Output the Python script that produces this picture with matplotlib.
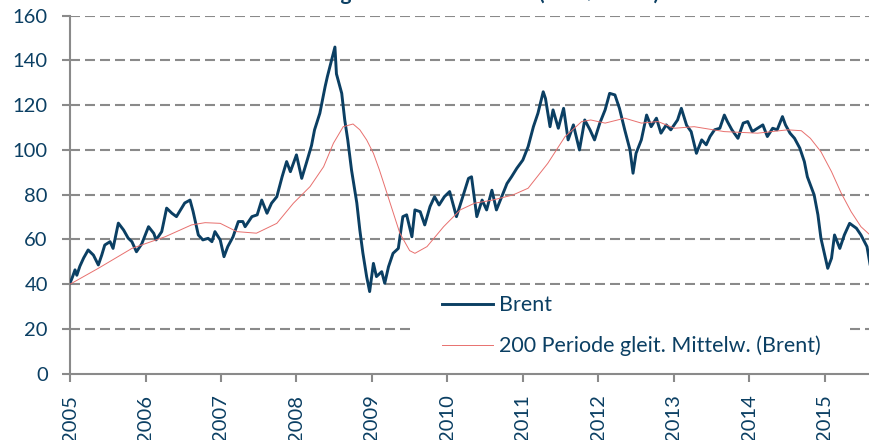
import numpy as np
import matplotlib
matplotlib.use('Agg')
import matplotlib.pyplot as plt
from matplotlib.patches import Rectangle

# Brent (USD/Barrel); Zeit als Dezimaljahr
brent_t = [2005.00, 2005.03, 2005.066, 2005.09, 2005.13, 2005.18, 2005.24, 2005.31, 2005.375, 2005.42,
           2005.46, 2005.53, 2005.57, 2005.64, 2005.71, 2005.77, 2005.82, 2005.88, 2005.95, 2006.04,
           2006.11, 2006.14, 2006.215, 2006.28, 2006.35, 2006.41, 2006.52, 2006.59, 2006.63, 2006.70,
           2006.76, 2006.83, 2006.88, 2006.92, 2006.99, 2007.04, 2007.09, 2007.16, 2007.23, 2007.29,
           2007.32, 2007.41, 2007.48, 2007.54, 2007.61, 2007.67, 2007.74, 2007.81, 2007.87, 2007.92,
           2008.00, 2008.07, 2008.13, 2008.20, 2008.24, 2008.31, 2008.38, 2008.41, 2008.46, 2008.51,
           2008.53, 2008.60, 2008.64, 2008.68, 2008.73, 2008.80, 2008.84, 2008.88, 2008.93, 2008.97,
           2009.02, 2009.06, 2009.13, 2009.17, 2009.22, 2009.28, 2009.35, 2009.41, 2009.46, 2009.53,
           2009.57, 2009.64, 2009.70, 2009.77, 2009.83, 2009.89, 2009.96, 2010.03, 2010.12, 2010.19,
           2010.28, 2010.32, 2010.39, 2010.46, 2010.52, 2010.59, 2010.65, 2010.72, 2010.79, 2010.85,
           2010.92, 2011.00, 2011.07, 2011.14, 2011.20, 2011.27, 2011.30, 2011.36, 2011.40, 2011.47,
           2011.54, 2011.60, 2011.67, 2011.75, 2011.82, 2011.89, 2011.95, 2012.02, 2012.09, 2012.15,
           2012.22, 2012.28, 2012.35, 2012.42, 2012.46, 2012.50, 2012.57, 2012.64, 2012.70, 2012.77,
           2012.83, 2012.90, 2012.96, 2013.05, 2013.10, 2013.17, 2013.23, 2013.30, 2013.37, 2013.43,
           2013.48, 2013.54, 2013.61, 2013.67, 2013.71, 2013.77, 2013.85, 2013.92, 2013.98, 2014.04,
           2014.11, 2014.18, 2014.24, 2014.31, 2014.37, 2014.44, 2014.48, 2014.54, 2014.60, 2014.67,
           2014.73, 2014.77, 2014.81, 2014.86, 2014.91, 2014.95, 2015.00, 2015.04, 2015.09, 2015.13,
           2015.20, 2015.26, 2015.33, 2015.42, 2015.48, 2015.56, 2015.60]
brent_v = [40.5, 43.0, 46.4, 44.0, 48.0, 51.7, 55.3, 53.0, 48.6, 53.0,
           57.5, 59.0, 56.0, 67.3, 64.2, 60.6, 59.0, 54.5, 58.0, 65.7,
           62.7, 59.8, 63.5, 74.0, 71.7, 70.2, 76.3, 77.6, 72.6, 62.0,
           59.8, 60.5, 59.0, 63.5, 59.8, 52.3, 56.8, 61.2, 68.0, 68.0,
           65.7, 70.2, 71.0, 77.6, 71.7, 76.2, 79.1, 88.0, 94.8, 90.3,
           97.8, 87.3, 94.0, 102.0, 109.0, 116.4, 128.3, 132.8, 139.5, 146.0,
           134.0, 125.3, 113.4, 104.5, 91.0, 76.3, 64.2, 54.0, 43.4, 36.7,
           49.3, 43.4, 45.6, 40.4, 47.8, 53.8, 56.0, 70.2, 71.0, 61.2,
           73.2, 72.4, 66.5, 74.7, 79.1, 75.4, 79.1, 81.4, 70.2, 77.6,
           87.3, 88.0, 70.2, 77.6, 73.2, 82.0, 73.2, 79.1, 85.0, 88.0,
           91.8, 95.5, 101.5, 110.4, 116.4, 126.0, 123.0, 110.4, 117.9, 109.7,
           118.6, 104.5, 111.2, 100.0, 113.4, 109.0, 104.5, 112.0, 117.9, 125.3,
           124.6, 118.6, 109.0, 100.0, 89.6, 98.5, 104.5, 115.6, 110.4, 114.2,
           107.5, 111.2, 109.0, 113.4, 118.6, 111.0, 108.2, 98.5, 104.5, 102.3,
           106.0, 109.0, 109.7, 115.6, 112.7, 109.0, 105.2, 112.0, 112.7, 108.2,
           109.7, 111.2, 106.0, 109.7, 109.0, 114.9, 111.2, 107.5, 105.2, 100.8,
           94.8, 88.0, 84.4, 79.9, 71.0, 60.5, 53.0, 47.1, 51.6, 62.0,
           56.0, 62.0, 67.2, 65.0, 62.0, 56.8, 49.0]

# 200 Perioden gleitender Mittelwert
ma_t = [2005.00, 2005.375, 2005.82, 2006.26, 2006.61, 2006.79, 2006.99, 2007.21, 2007.47, 2007.74,
        2007.96, 2008.18, 2008.36, 2008.49, 2008.62, 2008.75, 2008.84, 2008.93, 2009.02, 2009.10,
        2009.20, 2009.37, 2009.50, 2009.57, 2009.73, 2009.95, 2010.17, 2010.36, 2010.60, 2010.87,
        2011.07, 2011.33, 2011.56, 2011.78, 2011.90, 2012.09, 2012.35, 2012.57, 2012.79, 2013.01,
        2013.27, 2013.67, 2014.11, 2014.51, 2014.69, 2014.81, 2014.95, 2015.09, 2015.22, 2015.35,
        2015.48, 2015.60]
ma_v = [40.0, 47.1, 56.0, 61.2, 66.5, 67.5, 67.2, 63.5, 62.8, 67.2,
        76.2, 83.6, 92.5, 103.0, 110.4, 111.6, 109.0, 104.5, 98.5, 91.0,
        80.6, 62.8, 55.0, 53.8, 56.8, 65.7, 73.2, 76.2, 77.6, 79.9,
        82.9, 94.0, 106.0, 112.7, 113.4, 112.0, 114.2, 112.0, 112.7, 109.7,
        110.4, 108.2, 107.5, 109.0, 108.6, 105.2, 99.2, 90.3, 80.6, 72.4,
        65.7, 62.0]

years = list(range(2005, 2016))
yticks = list(range(0, 161, 20))

navy = '#0b3f63'
grid_c = '#8a8a8a'

plt.rcParams['font.family'] = ['Lato', 'DejaVu Sans']

fig = plt.figure(figsize=(8.7, 4.4), dpi=100)
ax = fig.add_axes([0.0805, 0.1507, 0.9195, 0.8136])

for yv in yticks[1:]:
    ax.axhline(yv, color=grid_c, lw=1.5, dashes=(4.8, 2.4), zorder=1)

ax.plot(brent_t, brent_v, color=navy, lw=2.1, solid_joinstyle='round', zorder=3, label='Brent')
ax.plot(ma_t, ma_v, color='#e8706e', lw=0.7, zorder=4, label='200 Periode gleit. Mittelw. (Brent)')

ax.set_xlim(2005, 2015.6)
ax.set_ylim(0, 160)
ax.set_xticks(years)
ax.set_xticklabels([str(y) for y in years], rotation=90, va='top')
ax.set_yticks(yticks)

for s in ['top', 'right']:
    ax.spines[s].set_visible(False)
for s in ['left', 'bottom']:
    ax.spines[s].set_color(grid_c)
    ax.spines[s].set_linewidth(1.5)
ax.tick_params(axis='y', colors=grid_c, labelcolor=navy, labelsize=14.5, length=6, width=1.5, pad=10)
ax.tick_params(axis='x', colors=grid_c, labelcolor=navy, labelsize=14.5, length=6, width=1.5, pad=9)

# weisser Legendenkasten
ax.add_patch(Rectangle((0.425, 0.004), 0.5475, 0.244, transform=ax.transAxes,
                       facecolor='white', edgecolor='none', zorder=5))
leg = ax.legend(loc='upper left', bbox_to_anchor=(0.4555, 0.2396), borderaxespad=0,
                borderpad=0.35, labelspacing=0.95, handlelength=2.35, handletextpad=0.3,
                fontsize=15.5, frameon=False)
leg.set_zorder(6)
for txt in leg.get_texts():
    txt.set_color(navy)

# Titel liegt im Original oben abgeschnitten
fig.text(659 / 870, 1.0, 'Entwicklung des Ölkurses Brent (USD/Barrel)', ha='right', va='baseline',
         fontsize=15, fontweight='bold', color=navy)

fig.savefig('out.png', dpi=100)
